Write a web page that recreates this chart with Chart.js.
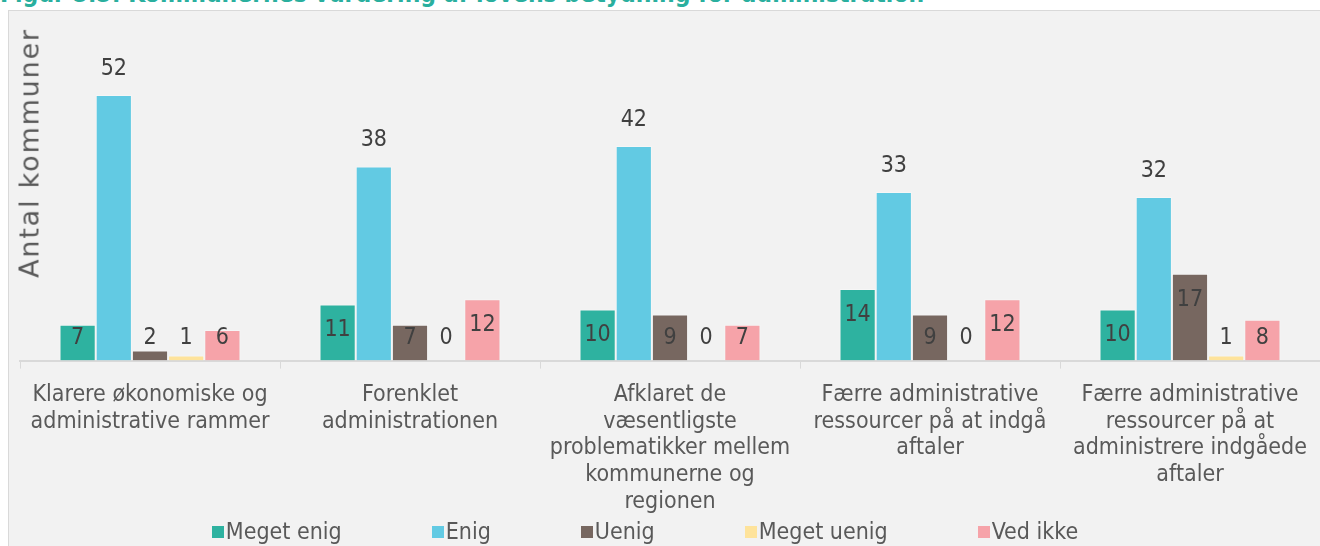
<!DOCTYPE html>
<html lang="da">
<head>
<meta charset="UTF-8">
<title>Figur 5.5</title>
<script src="https://cdn.jsdelivr.net/npm/chart.js"></script>
<style>
    html, body {
        margin: 0;
        padding: 0;
        width: 1320px;
        height: 546px;
        overflow: hidden;
        background: #ffffff;
        font-family: "DejaVu Sans Condensed", sans-serif;
    }

    #title {
        position: absolute;
        left: 0;
        top: -21px;
        font-size: 24.5px;
        font-weight: bold;
        color: #2aaf9e;
        white-space: nowrap;
    }

    #frame {
        position: absolute;
        left: 8px;
        top: 10px;
        width: 1330px;
        height: 560px;
        background: #f2f2f2;
        border: 1px solid #d9d9d9;
    }

    #yTitle {
        position: absolute;
        left: 29px;
        top: 153px;
        transform: translate(-50%, -50%) rotate(-90deg);
        font-family: "DejaVu Sans", sans-serif;
        font-size: 27px;
        letter-spacing: 1.8px;
        color: #595959;
        white-space: nowrap;
    }

    #wrap {
        position: absolute;
        left: 0;
        top: 0;
        width: 1320px;
        height: 546px;
    }

    #legend {
        position: absolute;
        left: 0;
        width: 1290px;
        top: 517px;
        display: flex;
        justify-content: center;
        gap: 90px;
        font-size: 23px;
        line-height: 28px;
        color: #595959;
    }

    #legend .item {
        display: flex;
        align-items: center;
        white-space: nowrap;
    }

    #legend .box {
        width: 12px;
        height: 12px;
        margin-right: 2px;
        margin-top: 2px;
    }
</style>
</head>
<body>
<div id="title">Figur 5.5: Kommunernes vurdering af lovens betydning for administration</div>
<div id="frame"></div>
<div id="wrap"><canvas id="chart"></canvas></div>
<div id="yTitle">Antal kommuner</div>
<div id="legend"></div>

<script>
    const categories = [
        ["Klarere økonomiske og", "administrative rammer"],
        ["Forenklet", "administrationen"],
        ["Afklaret de", "væsentligste", "problematikker mellem", "kommunerne og", "regionen"],
        ["Færre administrative", "ressourcer på at indgå", "aftaler"],
        ["Færre administrative", "ressourcer på at", "administrere indgåede", "aftaler"]
    ];

    const seriesNames = ["Meget enig", "Enig", "Uenig", "Meget uenig", "Ved ikke"];
    const megetEnig = [7, 11, 10, 14, 10];
    const enig = [52, 38, 42, 33, 32];
    const uenig = [2, 7, 9, 9, 17];
    const megetUenig = [1, 0, 0, 0, 1];
    const vedIkke = [6, 12, 7, 12, 8];

    const colors = ["#2eb2a0", "#62cae3", "#776760", "#fee39b", "#f6a3a9"];
    const values = [megetEnig, enig, uenig, megetUenig, vedIkke];

    const FONT = "'DejaVu Sans Condensed', sans-serif";

    // value labels: Enig above the bar, the rest inside the top end
    const barLabels = {
        id: 'barLabels',
        afterDatasetsDraw(chart) {
            const ctx = chart.ctx;
            const base = chart.scales.y.getPixelForValue(0);
            ctx.save();
            ctx.font = "23px " + FONT;
            ctx.fillStyle = "#404040";
            ctx.textAlign = "center";
            ctx.textBaseline = "middle";
            chart.data.datasets.forEach((ds, i) => {
                chart.getDatasetMeta(i).data.forEach((bar, j) => {
                    let y;
                    if (i === 1) {
                        y = bar.y - 26;
                    } else {
                        y = Math.min(bar.y + 26, base - 23);
                    }
                    ctx.fillText(String(ds.data[j]), bar.x, y);
                });
            });
            ctx.restore();
        }
    };

    new Chart(document.getElementById('chart'), {
        type: 'bar',
        data: {
            labels: categories,
            datasets: seriesNames.map((name, i) => ({
                label: name,
                data: values[i],
                backgroundColor: colors[i],
                borderColor: 'rgba(255,255,255,0.35)',
                borderWidth: 1,
                categoryPercentage: 0.696,
                barPercentage: 1.0
            }))
        },
        options: {
            responsive: true,
            maintainAspectRatio: false,
            animation: false,
            layout: {
                padding: { left: 20, right: 0, top: 54, bottom: 18 }
            },
            scales: {
                x: {
                    grid: {
                        offset: true,
                        drawOnChartArea: false,
                        drawTicks: true,
                        tickLength: 8,
                        color: '#d9d9d9'
                    },
                    border: { color: '#d9d9d9', width: 2 },
                    ticks: {
                        color: '#595959',
                        font: { family: FONT, size: 23, lineHeight: 1.16 },
                        maxRotation: 0,
                        autoSkip: false,
                        padding: 13
                    }
                },
                y: {
                    display: false,
                    min: 0,
                    max: 60
                }
            },
            plugins: {
                legend: { display: false },
                tooltip: { enabled: false }
            }
        },
        plugins: [barLabels]
    });

    // legend built from the same series names and colours
    const legend = document.getElementById('legend');
    seriesNames.forEach((name, i) => {
        const item = document.createElement('div');
        item.className = 'item';
        item.innerHTML = `<span class="box" style="background:${colors[i]}"></span><span>${name}</span>`;
        legend.appendChild(item);
    });
</script>
</body>
</html>
